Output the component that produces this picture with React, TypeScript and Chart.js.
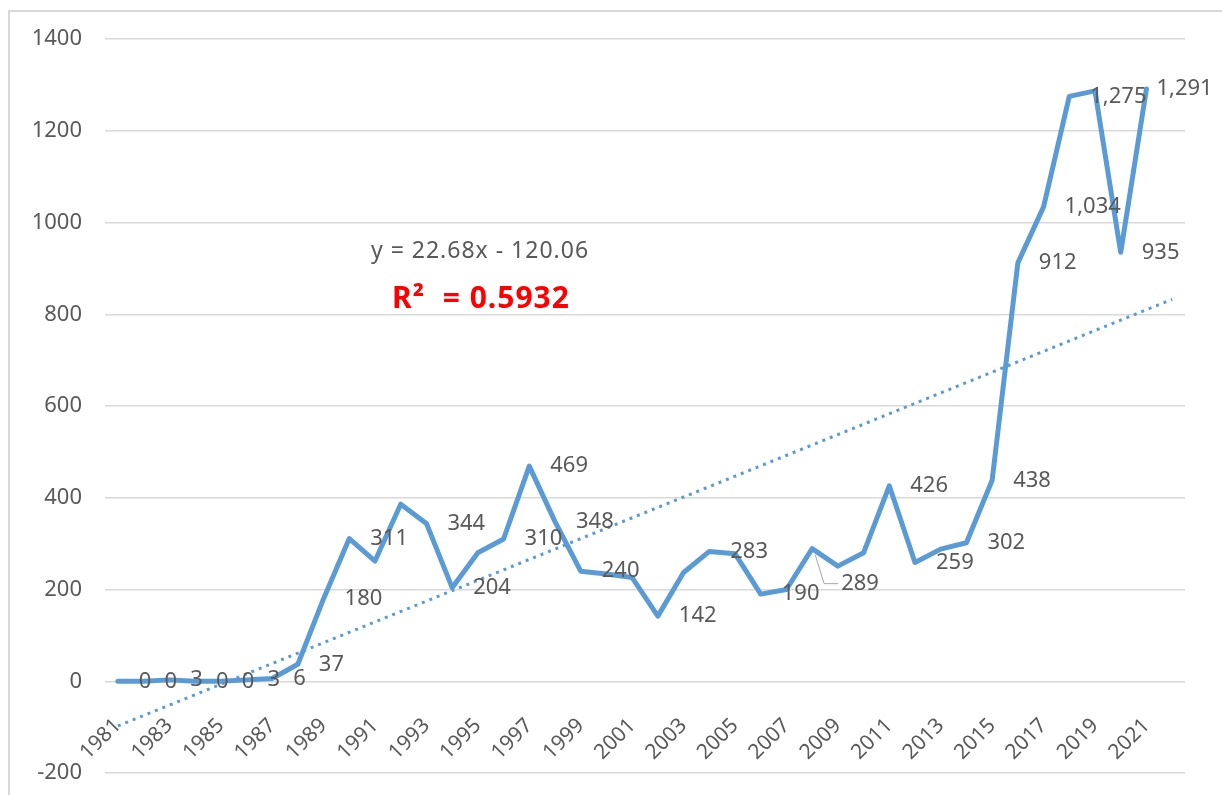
import React, { useEffect, useRef } from 'react';
import { Chart, registerables } from 'chart.js';

Chart.register(...registerables);

// Categories (the last category, 2022, only carries the trendline forecast)
const years: string[] = [
  '1981', '1982', '1983', '1984', '1985', '1986', '1987', '1988', '1989', '1990',
  '1991', '1992', '1993', '1994', '1995', '1996', '1997', '1998', '1999', '2000',
  '2001', '2002', '2003', '2004', '2005', '2006', '2007', '2008', '2009', '2010',
  '2011', '2012', '2013', '2014', '2015', '2016', '2017', '2018', '2019', '2020',
  '2021', '2022',
];

// Series values, 1981–2021
const counts: number[] = [
  0, 0, 3, 0, 0, 3, 6, 37, 180, 311,
  262, 386, 344, 204, 280, 310, 469, 348, 240, 234,
  226, 142, 237, 283, 278, 190, 200, 289, 251, 280,
  426, 259, 288, 302, 438, 912, 1034, 1275, 1287, 935,
  1291,
];

// Which points carry a data label (1 = shown)
const labelShown: number[] = [
  1, 1, 1, 1, 1, 1, 1, 1, 1, 1,
  0, 0, 1, 1, 0, 1, 1, 1, 1, 0,
  0, 1, 0, 1, 0, 1, 0, 1, 0, 0,
  1, 1, 0, 1, 1, 1, 1, 1, 0, 1,
  1,
];

// Linear trendline (x = 1 for 1981)
const TREND_SLOPE = 22.68;
const TREND_INTERCEPT = -120.06;
const equationText = 'y = 22.68x - 120.06';
const r2Text = 'R\u00B2  = 0.5932';

// Y axis
const Y_MIN = -200;
const Y_MAX = 1400;
const Y_STEP = 200;

const TEXT_COLOR = '#595959';
const LINE_COLOR = '#5B9BD5';
const GRID_COLOR = '#d9d9d9';
const FONT_FAMILY = '"Noto Sans", "Open Sans", sans-serif';

const trendData: (number | null)[] = years.map((_, i) =>
  i === 0 || i === years.length - 1 ? TREND_SLOPE * (i + 1) + TREND_INTERCEPT : null
);

const decorPlugin = {
  id: 'decor',
  beforeDraw(chart: any) {
    const { ctx, width, height } = chart;
    ctx.save();
    ctx.strokeStyle = GRID_COLOR;
    ctx.lineWidth = 2;
    ctx.beginPath();
    ctx.moveTo(9, height);
    ctx.lineTo(9, 11);
    ctx.lineTo(width, 11);
    ctx.stroke();
    ctx.restore();
  },
  afterDatasetsDraw(chart: any) {
    const { ctx } = chart;
    const meta = chart.getDatasetMeta(0);
    ctx.save();
    ctx.font = `22px ${FONT_FAMILY}`;
    ctx.fillStyle = TEXT_COLOR;
    ctx.textAlign = 'left';
    ctx.textBaseline = 'middle';
    meta.data.forEach((pt: any, i: number) => {
      if (!labelShown[i]) return;
      const text = counts[i].toLocaleString('en-US');
      if (years[i] === '2008') {
        ctx.strokeStyle = '#a6a6a6';
        ctx.lineWidth = 1;
        ctx.beginPath();
        ctx.moveTo(pt.x + 3, pt.y + 6);
        ctx.lineTo(pt.x + 12, pt.y + 35);
        ctx.lineTo(pt.x + 26, pt.y + 35);
        ctx.stroke();
        ctx.fillText(text, pt.x + 29, pt.y + 35);
      } else if (i === counts.length - 1) {
        ctx.fillText(text, pt.x + 10, pt.y);
      } else {
        ctx.fillText(text, pt.x + 21, pt.y);
      }
    });
    // trendline equation and R²
    ctx.textAlign = 'center';
    (ctx as any).letterSpacing = '1px';
    ctx.font = `23px ${FONT_FAMILY}`;
    ctx.fillStyle = TEXT_COLOR;
    ctx.fillText(equationText, 480, 251);
    ctx.font = `bold 30px ${FONT_FAMILY}`;
    ctx.fillStyle = '#ff0000';
    ctx.fillText(r2Text, 481, 299);
    ctx.restore();
  },
};

export default function App() {
  const canvasRef = useRef<HTMLCanvasElement | null>(null);

  useEffect(() => {
    if (!canvasRef.current) return;
    const chart = new Chart(canvasRef.current, {
      type: 'line',
      data: {
        labels: years,
        datasets: [
          {
            label: 'count',
            data: counts,
            borderColor: LINE_COLOR,
            borderWidth: 5,
            pointRadius: 0,
            tension: 0,
            fill: false,
            borderJoinStyle: 'round',
            borderCapStyle: 'round',
          },
          {
            label: 'trend',
            data: trendData,
            borderColor: LINE_COLOR,
            borderWidth: 3,
            borderDash: [3, 5],
            pointRadius: 0,
            spanGaps: true,
            fill: false,
          },
        ],
      },
      options: {
        responsive: false,
        animation: false,
        devicePixelRatio: 1,
        layout: { padding: { top: 39, right: 37, bottom: 22, left: 0 } },
        plugins: {
          legend: { display: false },
          tooltip: { enabled: false },
        },
        scales: {
          x: {
            type: 'category',
            position: { y: 0 } as any,
            offset: true,
            grid: { display: false, drawTicks: false },
            border: { display: false },
            ticks: {
              autoSkip: false,
              minRotation: 45,
              maxRotation: 45,
              padding: 32,
              color: TEXT_COLOR,
              font: { size: 21, family: FONT_FAMILY },
              callback: (_v: any, i: number) => (i % 2 === 0 ? years[i] : ''),
            },
            afterFit: (s: any) => {
              s.height = 0;
              s.paddingLeft = 0;
              s.paddingRight = 0;
              s.paddingTop = 0;
              s.paddingBottom = 0;
            },
          },
          y: {
            min: Y_MIN,
            max: Y_MAX,
            ticks: {
              stepSize: Y_STEP,
              padding: 23,
              color: TEXT_COLOR,
              font: { size: 22, family: FONT_FAMILY },
              callback: (v: any) => String(v),
            },
            grid: { color: GRID_COLOR, lineWidth: 1.5, drawTicks: false },
            border: { display: false },
            afterFit: (s: any) => {
              s.width = 105;
              s.paddingTop = 0;
              s.paddingBottom = 0;
            },
          },
        },
      },
      plugins: [decorPlugin],
    });
    return () => chart.destroy();
  }, []);

  return (
    <div style={{ position: 'fixed', left: 0, top: 0, width: 1222, height: 795, background: '#fff' }}>
      <canvas ref={canvasRef} width={1222} height={795} />
    </div>
  );
}
